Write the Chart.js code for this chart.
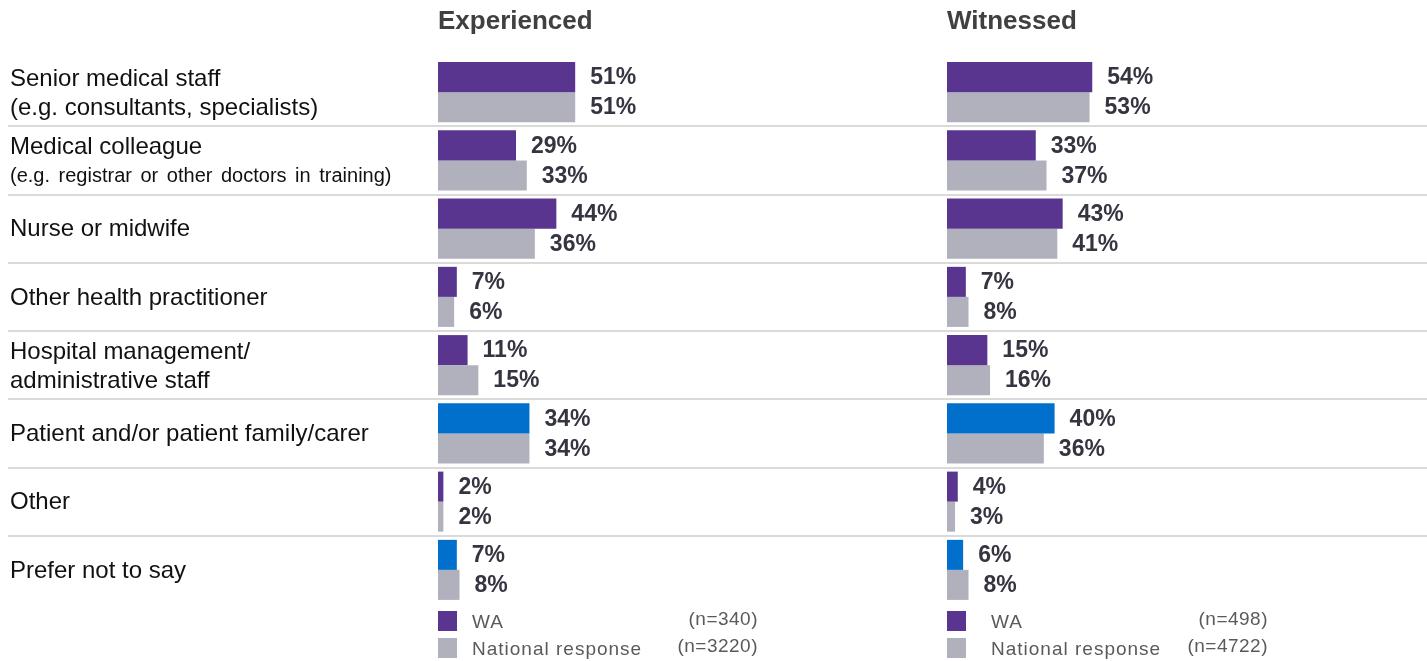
<!DOCTYPE html>
<html>
<head>
<meta charset="utf-8">
<script src="https://cdn.jsdelivr.net/npm/chart.js@4/dist/chart.umd.min.js"></script>
<style>
body{margin:0;background:#fff;}
#wrap{position:relative;width:1427px;height:661px;}
#leftBox{position:absolute;left:0;top:0;width:940px;height:661px;}
#rightBox{position:absolute;left:940px;top:0;width:487px;height:661px;}
</style>
</head>
<body>
<div id="wrap">
	<div id="leftBox"><canvas id="expChart"></canvas></div>
	<div id="rightBox"><canvas id="witChart"></canvas></div>
</div>
<script>
//data -start
var categories = [
	['Senior medical staff', '(e.g. consultants, specialists)'],
	['Medical colleague', '(e.g. registrar or other doctors in training)'],
	['Nurse or midwife'],
	['Other health practitioner'],
	['Hospital management/', 'administrative staff'],
	['Patient and/or patient family/carer'],
	['Other'],
	['Prefer not to say']
];
var seriesNames = ['WA', 'National response'];

var expWA  = [51, 29, 44, 7, 11, 34, 2, 7];
var expNat = [51, 33, 36, 6, 15, 34, 2, 8];
var expN   = ['(n=340)', '(n=3220)'];

var witWA  = [54, 33, 43, 7, 15, 40, 4, 6];
var witNat = [53, 37, 41, 8, 16, 36, 3, 8];
var witN   = ['(n=498)', '(n=4722)'];
//data -end

var PURPLE = '#5a3590';
var BLUE = '#0070cc';
var GREY = '#b1b1bd';
var FONT = "Arial, 'Liberation Sans', sans-serif";
var smallNoteRow = 1;   // row whose second line is set in a smaller font
var blueRows = [5, 7];  // WA bars drawn in blue

function waColour(ctx) {
	return blueRows.indexOf(ctx.dataIndex) > -1 ? BLUE : PURPLE;
}

//text, separators and legend drawn on top of each panel -start
var panelText = {
	id: 'panelText',
	beforeDatasetsDraw: function(chart, args, opts) {
		var ctx = chart.ctx;
		var yScale = chart.scales.y;
		ctx.save();
		ctx.strokeStyle = '#dadada';
		ctx.lineWidth = 2;
		for (var i = 0; i < categories.length - 1; i++) {
			var y = Math.round((yScale.getPixelForValue(i) + yScale.getPixelForValue(i + 1)) / 2);
			ctx.beginPath();
			ctx.moveTo(opts.lineStart, y);
			ctx.lineTo(chart.width, y);
			ctx.stroke();
		}
		ctx.restore();
	},
	afterDatasetsDraw: function(chart, args, opts) {
		var ctx = chart.ctx;
		var area = chart.chartArea;
		var yScale = chart.scales.y;
		ctx.save();

		// panel heading
		ctx.fillStyle = '#404040';
		ctx.font = 'bold 26px ' + FONT;
		ctx.textBaseline = 'middle';
		ctx.textAlign = 'left';
		ctx.fillText(opts.title, area.left, 22);

		// value labels at the end of each bar
		ctx.fillStyle = '#353542';
		ctx.font = 'bold 23px ' + FONT;
		chart.data.datasets.forEach(function(ds, di) {
			var meta = chart.getDatasetMeta(di);
			meta.data.forEach(function(bar, i) {
				ctx.fillText(ds.data[i] + '%', bar.x + 15, bar.y + 1);
			});
		});

		// category names on the left
		if (opts.showCats) {
			ctx.fillStyle = '#111111';
			categories.forEach(function(lines, i) {
				var cy = yScale.getPixelForValue(i);
				ctx.font = '24px ' + FONT;
				if (lines.length == 1) {
					ctx.fillText(lines[0], 10, cy + 1);
				} else {
					ctx.fillText(lines[0], 10, cy - 13);
					if (i == smallNoteRow) {
						ctx.font = '20px ' + FONT;
						ctx.wordSpacing = '3px';
					}
					ctx.fillText(lines[1], 10, cy + 16);
					ctx.wordSpacing = '0px';
				}
			});
		}

		// legend
		var swatch = [PURPLE, GREY];
		for (var k = 0; k < 2; k++) {
			var ly = 621 + k * 27;
			ctx.fillStyle = swatch[k];
			ctx.fillRect(area.left, ly - 10, 19, 20);
			ctx.fillStyle = '#5a5a5a';
			ctx.font = '19px ' + FONT;
			ctx.textAlign = 'left';
			ctx.letterSpacing = '1px';
			ctx.fillText(seriesNames[k], area.left + opts.nameOffset, ly + 2);
			ctx.letterSpacing = '0.5px';
			ctx.textAlign = 'right';
			ctx.fillText(opts.n[k], area.left + opts.nOffset, ly - 1);
			ctx.letterSpacing = '0px';
		}
		ctx.restore();
	}
};
//text, separators and legend drawn on top of each panel -end

function makePanel(canvasId, title, waVals, natVals, nLabels, padLeft, padRight, showCats, lineStart, nameOffset, nOffset) {
	var canvas = document.getElementById(canvasId);
	return new Chart(canvas.getContext('2d'), {
		type: 'bar',
		data: {
			labels: categories.map(function(c) { return c.join(' '); }),
			datasets: [{
				label: seriesNames[0],
				data: waVals,
				backgroundColor: waColour,
				borderWidth: 0,
				barPercentage: 1,
				categoryPercentage: 0.88
			}, {
				label: seriesNames[1],
				data: natVals,
				backgroundColor: GREY,
				borderWidth: 0,
				barPercentage: 1,
				categoryPercentage: 0.88
			}]
		},
		options: {
			indexAxis: 'y',
			responsive: true,
			maintainAspectRatio: false,
			animation: false,
			layout: { padding: { left: padLeft, right: padRight, top: 58, bottom: 57 } },
			scales: {
				x: { display: false, min: 0, max: 100 },
				y: { display: false }
			},
			plugins: {
				legend: { display: false },
				tooltip: { enabled: false },
				panelText: {
					title: title,
					n: nLabels,
					showCats: showCats,
					lineStart: lineStart,
					nameOffset: nameOffset,
					nOffset: nOffset
				}
			}
		},
		plugins: [panelText]
	});
}

makePanel('expChart', 'Experienced', expWA, expNat, expN, 438, 233, true, 8, 34, 320);
makePanel('witChart', 'Witnessed', witWA, witNat, witN, 7, 211, false, 0, 44, 321);
</script>
</body>
</html>
